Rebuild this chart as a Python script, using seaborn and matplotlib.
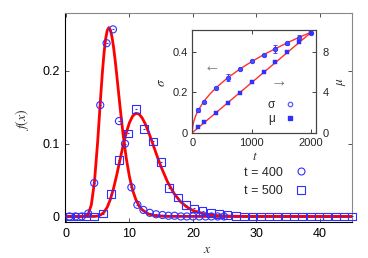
import matplotlib
matplotlib.use('Agg')
import matplotlib.pyplot as plt
import seaborn as sns
from matplotlib.lines import Line2D

# marker data, main panel
circ_x = [0.55, 1.5, 2.5, 3.5, 4.45, 5.4, 6.4, 7.4, 8.35, 9.3, 10.3, 11.25, 12.2,
          13.2, 14.2, 15.2, 16.15, 17.1, 18.1, 19.05, 20.0, 21.0, 22.0, 22.9, 23.9, 24.9]
circ_y = [0, 0, 0, 0.004, 0.046, 0.153, 0.238, 0.257, 0.131, 0.100, 0.040, 0.016, 0.009,
          0.005, 0.003, 0.002, 0.001, 0.001, 0, 0, 0, 0, 0, 0, 0, 0]

sq_x = [0.55, 1.86, 3.17, 4.48, 5.79, 7.1, 8.41, 9.72, 11.03, 12.34, 13.65, 14.96, 16.27,
        17.58, 18.89, 20.2, 21.51, 22.82, 24.13, 25.44, 26.75, 28.06, 29.37, 30.68, 31.99,
        33.3, 34.61, 35.92, 37.23, 38.54, 39.85, 41.16, 42.47, 43.78, 45.09]
sq_y = [0, 0, 0, 0, 0.004, 0.031, 0.077, 0.114, 0.148, 0.120, 0.103, 0.075, 0.039,
        0.026, 0.016, 0.011, 0.008, 0.005, 0.003, 0.002, 0.001, 0, 0, 0, 0,
        0, 0, 0, 0, 0, 0, 0, 0, 0, 0]

# fitted curves
fit400_x = [0, 2.5, 3.0, 3.5, 4.0, 4.5, 5.0, 5.5, 5.75, 6.0, 6.25, 6.5, 6.75, 7.0, 7.25, 7.5,
            7.75, 8.0, 8.25, 8.5, 9.0, 9.5, 10.0, 10.5, 11.0, 11.5, 12.0, 13.0, 14.0, 16.0, 45.0]
fit400_y = [0, 0, 0.0003, 0.0032, 0.016, 0.0485, 0.1033, 0.1687, 0.1991, 0.2248, 0.2439,
            0.2555, 0.2594, 0.2562, 0.2467, 0.2324, 0.2145, 0.1944, 0.1733, 0.1521, 0.1128,
            0.08, 0.0546, 0.0362, 0.0234, 0.0148, 0.0092, 0.0034, 0.0012, 0.0001, 0]

fit500_x = [0, 4.5, 5.0, 5.5, 6.0, 6.5, 7.0, 7.5, 8.0, 8.5, 9.0, 9.5, 10.0, 10.5, 11.0, 11.5,
            12.0, 12.5, 13.0, 13.5, 14.0, 14.5, 15.0, 16.0, 17.0, 18.0, 19.0, 20.0, 22.0,
            24.0, 27.0, 30.0, 45.0]
fit500_y = [0, 0.0001, 0.0007, 0.0023, 0.0059, 0.0127, 0.0236, 0.0387, 0.0571, 0.0774,
            0.0973, 0.1151, 0.1289, 0.1379, 0.1418, 0.1407, 0.1354, 0.127, 0.1162, 0.1042,
            0.0917, 0.0794, 0.0677, 0.0475, 0.0319, 0.0208, 0.0132, 0.0082, 0.003, 0.001,
            0.0002, 0, 0]

# inset data
t_pts = [100, 200, 400, 600, 800, 1000, 1200, 1400, 1600, 1800, 2000]
sigma = [0.112, 0.153, 0.222, 0.272, 0.315, 0.354, 0.384, 0.413, 0.441, 0.469, 0.494]
sigma_err = [0.008, 0.004, 0.004, 0.016, 0.005, 0.004, 0.005, 0.02, 0.006, 0.013, 0.004]
mu = [0.53, 1.03, 1.98, 2.96, 3.95, 4.98, 5.97, 7.01, 7.94, 8.93, 9.88]

sig_fit_t = [0, 5, 20, 50, 100, 200, 300, 400, 600, 800, 1000, 1200, 1400, 1600, 1800, 2000]
sig_fit = [0, 0.025, 0.050, 0.079, 0.111, 0.157, 0.192, 0.222, 0.272, 0.314, 0.351,
           0.385, 0.415, 0.444, 0.471, 0.496]
mu_fit_t = [0, 2000]
mu_fit = [0, 9.9]

sns.set_style('ticks')
plt.rcParams['font.family'] = ['Liberation Sans', 'DejaVu Sans']
plt.rcParams['mathtext.fontset'] = 'stix'
BLUE = '#2f2fff'
W, H = 368, 258

fig = plt.figure(figsize=(3.68, 2.58), dpi=100)
ax = fig.add_axes([65 / W, 1 - 222 / H, (352 - 65) / W, (222 - 13) / H])

sns.lineplot(x=fit400_x, y=fit400_y, ax=ax, color='red', lw=2.0, zorder=2)
sns.lineplot(x=fit500_x, y=fit500_y, ax=ax, color='red', lw=2.0, zorder=2)
sns.scatterplot(x=circ_x, y=circ_y, ax=ax, marker='o', s=26, fc='none', ec=BLUE,
                linewidth=0.8, clip_on=False, zorder=3)
sns.scatterplot(x=sq_x, y=sq_y, ax=ax, marker='s', s=32, fc='none', ec=BLUE,
                linewidth=0.8, clip_on=False, zorder=3)
ax.scatter(circ_x + sq_x, circ_y + sq_y, marker='_', s=4, color=BLUE, lw=0.8,
           clip_on=False, zorder=4)

ax.set_xlim(-0.15, 45.05)
ax.set_ylim(-0.0076, 0.2795)
ax.set_xticks([0, 10, 20, 30, 40])
ax.set_yticks([0, 0.1, 0.2])
ax.set_yticklabels(['0', '0.1', '0.2'])
ax.tick_params(direction='in', length=3, width=0.6, top=True, right=True,
               labelsize=9, pad=4, colors='#333333', labelcolor='black')
for s in ['left', 'bottom']:
    ax.spines[s].set_color('black')
    ax.spines[s].set_linewidth(0.8)
for s in ['top', 'right']:
    ax.spines[s].set_visible(True)
    ax.spines[s].set_color('#888888')
    ax.spines[s].set_linewidth(0.8)

fig.text(22 / W, 1 - 120 / H, r'$f(x)$', rotation=90, ha='center', va='center',
         fontsize=10, color='#333333')
fig.text(207 / W, 1 - 249 / H, r'$x$', ha='center', va='center', fontsize=10, color='#333333')

h400 = Line2D([], [], ls='none', marker='o', ms=5, mfc='none', mec=BLUE, mew=0.8)
h500 = Line2D([], [], ls='none', marker='s', ms=5.5, mfc='none', mec=BLUE, mew=0.8)
ax.legend([h400, h500], ['t = 400', 't = 500'], loc='center right', frameon=False,
          markerfirst=False, handlelength=1.0, handletextpad=0.9, labelspacing=0.55,
          fontsize=9, bbox_to_anchor=(318 / W, 1 - 182 / H), bbox_transform=fig.transFigure)

# inset
ins = fig.add_axes([192.3 / W, 1 - 132.7 / H, (316 - 192.3) / W, (132.7 - 30) / H])
tw = ins.twinx()
sns.lineplot(x=sig_fit_t, y=sig_fit, ax=ins, color='#ff3030', lw=1.0, zorder=2)
sns.lineplot(x=mu_fit_t, y=mu_fit, ax=tw, color='#ff3030', lw=1.0, zorder=2)
ins.errorbar(t_pts, sigma, yerr=sigma_err, fmt='o', ms=3.2, mfc='#4a4aff', mec=BLUE,
             mew=0.6, ecolor=BLUE, elinewidth=0.7, capsize=1.5, capthick=0.7, zorder=3)
sns.scatterplot(x=t_pts, y=mu, ax=tw, marker='s', s=10, color=BLUE, ec=BLUE,
                linewidth=0.3, zorder=3)

ins.set_xlim(0, 2083)
ins.set_ylim(0, 0.507)
tw.set_ylim(0, 10.14)
ins.set_xticks([0, 1000, 2000])
ins.set_yticks([0, 0.2, 0.4])
ins.set_yticklabels(['0', '0.2', '0.4'])
tw.set_yticks([0, 4, 8])
ins.tick_params(direction='in', length=3, width=0.6, top=True, labelsize=8, pad=3)
ins.tick_params(axis='x', pad=4)
tw.tick_params(direction='in', length=3, width=0.6, labelsize=8, pad=5)
for a in (ins, tw):
    for s in a.spines.values():
        s.set_color('#444444')
        s.set_linewidth(0.8)

fig.text(255 / W, 1 - 157 / H, r'$t$', ha='center', va='center', fontsize=9.5, color='#333333')
fig.text(162 / W, 1 - 82 / H, r'$\sigma$', rotation=90, ha='center', va='center',
         fontsize=9.5, color='#333333')
fig.text(341 / W, 1 - 82 / H, r'$\mu$', rotation=90, ha='center', va='center',
         fontsize=9.5, color='#333333')
fig.text(212 / W, 1 - 67 / H, '\u2190', ha='center', va='center', fontsize=12, color='#777777')
fig.text(279 / W, 1 - 82 / H, '\u2192', ha='center', va='center', fontsize=12, color='#777777')

hs = Line2D([], [], ls='none', marker='o', ms=3.2, mfc='none', mec='#5a5aff', mew=0.9)
hm = Line2D([], [], ls='none', marker='s', ms=3.2, mfc=BLUE, mec=BLUE)
ins.legend([hs, hm], ['\u03c3', '\u03bc'], loc='center right', frameon=False,
           markerfirst=False, handlelength=1.0, handletextpad=0.8, labelspacing=0.15,
           fontsize=8.5, bbox_to_anchor=(307 / W, 1 - 112 / H), bbox_transform=fig.transFigure)

fig.savefig('out.png', dpi=100)
